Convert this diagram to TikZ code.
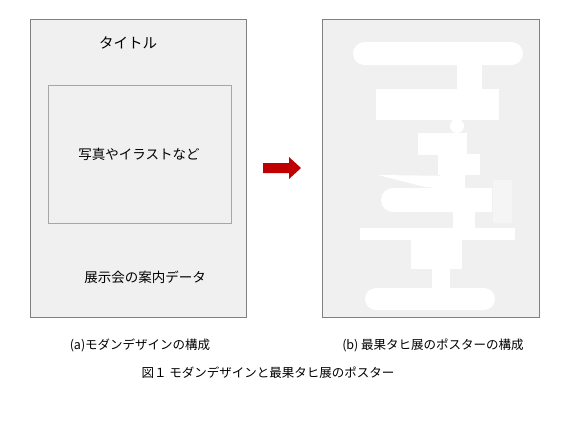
\documentclass[tikz,border=0pt]{standalone}
\usepackage{fontspec}
\usepackage{xcolor}
\setmainfont{Noto Sans CJK JP}
\definecolor{panelgray}{RGB}{240,240,240}
\definecolor{framegray}{RGB}{128,128,132}
\definecolor{arrowred}{RGB}{192,0,0}
\tikzset{
  panel/.style={draw=framegray,fill=panelgray,line width=0.8pt},
  big/.style={font=\fontsize{13.5}{15}\selectfont,inner sep=0pt},
  captext/.style={font=\fontsize{12.5}{14}\selectfont,inner sep=0pt}
}

\begin{document}
\begin{tikzpicture}[x=1pt,y=-1pt]
            \useasboundingbox[fill=white] (0,0) rectangle (575,424);

            % (a) modern design
            \draw[panel] (30,19) rectangle (246,317);
            \draw[draw=framegray!70,fill=panelgray,line width=0.6pt] (48,85) rectangle (231,223);
            \node (ttl) at (128,43) [big,font=\fontsize{14.5}{16}\selectfont] {タイトル};
            \node (img) at (139,154) [big] {写真やイラストなど};
            \node (dat) at (145,277) [big] {展示会の案内データ};

            % arrow
            \fill[arrowred] (263,163) -- (289,163) -- (289,157) -- (301,168)
            -- (289,179) -- (289,173) -- (263,173) -- cycle;

            % (b) poster
            \draw[panel] (322,19) rectangle (539,317);
            \fill[white!30!panelgray] (493,180) rectangle (512,223);
            \fill[white,rounded corners=11.5] (353,42) rectangle (523,65);
            \fill[white] (457,64) rectangle (482,90);
            \fill[white] (376,89) rectangle (499,120);
            \fill[white] (457,126) circle (7);
            \fill[white] (418,133) rectangle (467,155);
            \fill[white] (438,154) rectangle (480,175);
            \fill[white] (440,175) rectangle (465,190);
            \fill[white] (378,175) -- (460,176) -- (460,190) -- (425,187) -- cycle;
            \fill[white] (393,200) circle (12);
            \fill[white] (393,188) rectangle (492,212);
            \fill[white] (453,211) rectangle (475,229);
            \fill[white] (360,228) rectangle (515,240);
            \fill[white] (411,239) rectangle (462,269);
            \fill[white] (432,268) rectangle (450,289);
            \fill[white,rounded corners=11] (365,288) rectangle (495,310);

            % captions
            \node (ca) at (140,345) [captext] {(a)モダンデザインの構成};
            \node (cb) at (433,345) [captext] {(b) 最果タヒ展のポスターの構成};
            \node (fig) at (268,373) [captext] {図１ モダンデザインと最果タヒ展のポスター};
        \end{tikzpicture}
\end{document}
